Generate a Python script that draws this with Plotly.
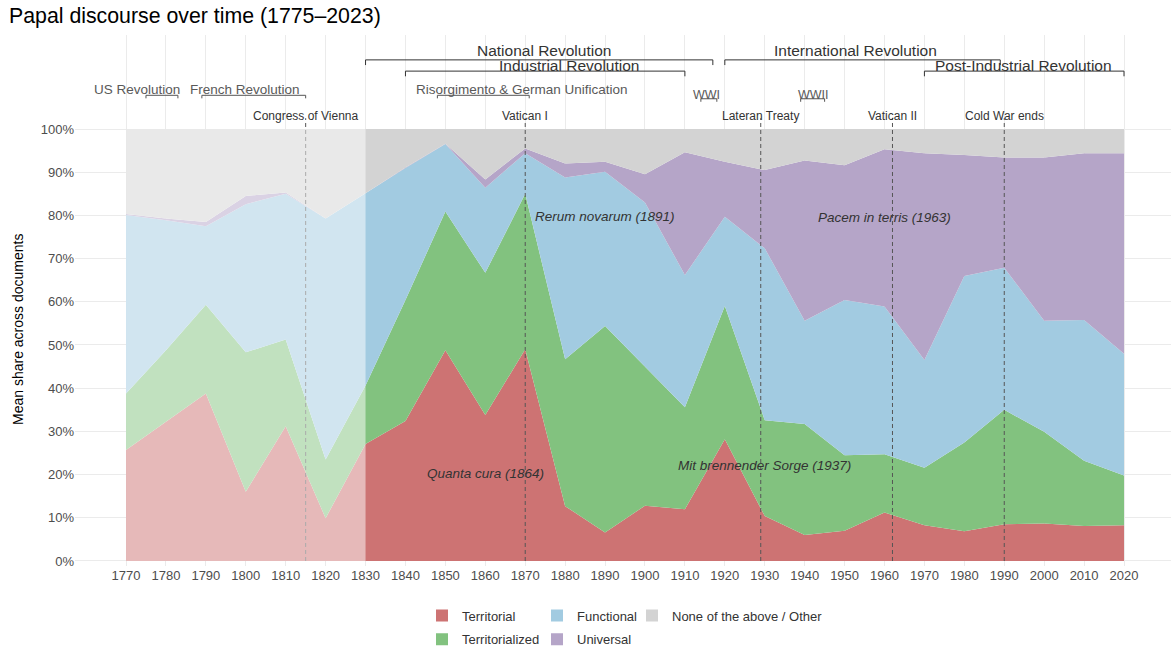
import plotly.graph_objects as go

# ---------------- data ----------------
years = [1770, 1780, 1790, 1800, 1810, 1820, 1830, 1840, 1850, 1860, 1870, 1880, 1890,
         1900, 1910, 1920, 1930, 1940, 1950, 1960, 1970, 1980, 1990, 2000, 2010, 2020]

territorial = [25.7, 32.2, 38.8, 16.0, 31.2, 9.9, 27.1, 32.4, 48.8, 33.8, 49.0, 12.7, 6.6,
               12.8, 12.0, 28.2, 10.4, 6.0, 7.0, 11.2, 8.3, 6.9, 8.5, 8.7, 8.1, 8.3]
territorialized = [13.1, 16.6, 20.5, 32.3, 20.1, 13.6, 13.5, 28.0, 32.1, 32.9, 36.0, 34.0, 47.8,
                   32.2, 23.6, 30.8, 22.2, 25.7, 17.5, 13.5, 13.3, 20.5, 26.5, 21.2, 15.1, 11.5]
functional = [41.3, 30.1, 18.2, 34.3, 33.7, 55.8, 44.5, 30.6, 15.6, 19.7, 9.4, 42.1, 35.7,
              38.0, 30.6, 20.7, 39.8, 23.9, 35.9, 34.2, 24.9, 38.6, 32.9, 25.7, 32.6, 28.2]
universal = [0.2, 0.4, 1.0, 1.9, 0.3, 0.0, 0.0, 0.1, 0.1, 1.9, 1.1, 3.2, 2.3,
             6.5, 28.4, 12.7, 18.1, 37.1, 31.2, 36.4, 47.9, 28.0, 25.5, 37.8, 38.6, 46.4]
other = [19.7, 20.7, 21.5, 15.5, 14.7, 20.7, 14.9, 8.9, 3.4, 11.7, 4.5, 8.0, 7.6,
         10.5, 5.4, 7.6, 9.5, 7.3, 8.4, 4.7, 5.6, 6.0, 6.6, 6.6, 5.6, 5.6]

series_names = ["Territorial", "Territorialized", "Functional", "Universal",
                "None of the above / Other"]
series_values = [territorial, territorialized, functional, universal, other]

y_ticks = [0, 10, 20, 30, 40, 50, 60, 70, 80, 90, 100]
x_ticks = years

faded_period = [1770, 1830]

event_names = ["Congress of Vienna", "Vatican I", "Lateran Treaty", "Vatican II", "Cold War ends"]
event_years = [1815, 1870, 1929, 1962, 1990]

period_names = ["US Revolution", "French Revolution", "Risorgimento & German Unification",
                "WWI", "WWII"]
period_start = [1775, 1789, 1848, 1914, 1939]
period_end = [1783, 1815, 1871, 1918, 1945]
period_label_x = [1772.8, 1799.8, 1869.2, 1915.5, 1942.1]

era_names = ["National Revolution", "Industrial Revolution", "International Revolution",
             "Post-Industrial Revolution"]
era_start = [1830, 1840, 1920, 1970]
era_end = [1917, 1910, 1989, 2020]
era_label_x = [1874.8, 1880.9, 1952.7, 1994.7]

encyclical_names = ["Quanta cura (1864)", "Rerum novarum (1891)",
                    "Mit brennender Sorge (1937)", "Pacem in terris (1963)"]
encyclical_x = [1860, 1890, 1930, 1960]
encyclical_y = [20.3, 79.7, 22.1, 79.5]

# ---------------- styles ----------------
FONT = "Liberation Sans, Arial, sans-serif"
colors = ["#cd7373", "#82c27f", "#a2cbe1", "#b5a5c8", "#d3d3d3"]
W, H = 1171, 649
ML, MR, MT, MB = 75, 0, 35, 83
X_RANGE = [1757.22, 2031.77]
Y_RANGE = [-1.16, 121.76]
EVENT_TOP = 102.5
EVENT_LABEL_Y = 103.0
PERIOD_LINE_Y = [107.8, 107.8, 107.8, 107.0, 107.0]
PERIOD_LABEL_Y = [109.1, 109.1, 109.1, 107.8, 107.8]
ERA_LINE_Y = [116.0, 113.4, 116.0, 113.4]
ERA_LABEL_Y = [118.1, 114.6, 118.1, 114.6]
TICK = 1.2

fig = go.Figure()

for name, vals, col in zip(series_names, series_values, colors):
    fig.add_trace(go.Scatter(
        x=years, y=vals, name=name, stackgroup="one", mode="lines",
        line=dict(width=0, color=col), fillcolor=col, showlegend=False,
        hoverinfo="skip"))

# faded early period
fig.add_shape(type="rect", xref="x", yref="y", x0=faded_period[0], x1=faded_period[1],
              y0=0, y1=100, fillcolor="white", opacity=0.5, line=dict(width=0),
              layer="above")

# event dashed lines
for yr in event_years:
    fig.add_trace(go.Scatter(x=[yr, yr], y=[0, EVENT_TOP], mode="lines",
                             line=dict(color="#555555", width=1, dash="4px,3px"),
                             showlegend=False, hoverinfo="skip"))
for name, yr in zip(event_names, event_years):
    fig.add_annotation(x=yr, y=EVENT_LABEL_Y, xref="x", yref="y", text=name,
                       showarrow=False, font=dict(family=FONT, size=12, color="#333333"),
                       xanchor="center", yanchor="middle")

# brackets
def bracket(x0, x1, y, tick):
    return [x0, x0, None, x0, x1, None, x1, x1], [y - tick, y, None, y, y, None, y, y - tick]

for i, name in enumerate(period_names):
    bx, by = bracket(period_start[i], period_end[i], PERIOD_LINE_Y[i], 0.7)
    fig.add_trace(go.Scatter(x=bx, y=by, mode="lines", line=dict(color="#555555", width=1),
                             showlegend=False, hoverinfo="skip"))
    fig.add_annotation(x=period_label_x[i], y=PERIOD_LABEL_Y[i], xref="x", yref="y", text=name,
                       showarrow=False,
                       font=dict(family=FONT, size=13.5 if i < 3 else 12.5, color="#595959"),
                       xanchor="center", yanchor="middle")

for i, name in enumerate(era_names):
    bx, by = bracket(era_start[i], era_end[i], ERA_LINE_Y[i], TICK)
    fig.add_trace(go.Scatter(x=bx, y=by, mode="lines", line=dict(color="#333333", width=1),
                             showlegend=False, hoverinfo="skip"))
    fig.add_annotation(x=era_label_x[i], y=ERA_LABEL_Y[i], xref="x", yref="y", text=name,
                       showarrow=False, font=dict(family=FONT, size=15.5, color="#333333"),
                       xanchor="center", yanchor="middle")

for name, xx, yy in zip(encyclical_names, encyclical_x, encyclical_y):
    fig.add_annotation(x=xx, y=yy, xref="x", yref="y", text="<i>" + name + "</i>",
                       showarrow=False, font=dict(family=FONT, size=13.5, color="#333333"),
                       xanchor="center", yanchor="middle")

# legend proxies (three columns)
legend_cols = {"Territorial": "legend", "Territorialized": "legend",
               "Functional": "legend2", "Universal": "legend2",
               "None of the above / Other": "legend3"}
for name, col in zip(series_names, colors):
    fig.add_trace(go.Scatter(x=[None], y=[None], mode="markers", name=name,
                             marker=dict(symbol="square", size=12, color=col),
                             legend=legend_cols[name], legendgroup=name, showlegend=True))

def px_x(px):
    return (px - ML) / (W - ML - MR)

def px_y(py):
    return (H - MB - py) / (H - MB - MT)

leg_common = dict(orientation="v", xanchor="left", yanchor="top",
                  font=dict(family=FONT, size=13, color="#333333"),
                  bgcolor="rgba(0,0,0,0)", itemwidth=30, tracegroupgap=4,
                  itemclick=False, itemdoubleclick=False)

fig.update_layout(
    width=W, height=H,
    margin=dict(l=ML, r=MR, t=MT, b=MB, autoexpand=False),
    paper_bgcolor="white", plot_bgcolor="white",
    xaxis=dict(range=X_RANGE, tickvals=x_ticks, ticktext=[str(v) for v in x_ticks],
               showgrid=True, gridcolor="#ebebeb", gridwidth=1, zeroline=False, automargin=False,
               showline=False, ticks="", tickfont=dict(family=FONT, size=13, color="#4d4d4d")),
    yaxis=dict(range=Y_RANGE, tickvals=y_ticks, ticktext=[f"{v}%" for v in y_ticks],
               showgrid=True, gridcolor="#ebebeb", gridwidth=1, zeroline=False, automargin=False,
               showline=False, ticks="", tickfont=dict(family=FONT, size=13, color="#4d4d4d")),
    legend=dict(x=px_x(422), y=px_y(600.5), **leg_common),
    legend2=dict(x=px_x(537), y=px_y(600.5), **leg_common),
    legend3=dict(x=px_x(632), y=px_y(600.5), **leg_common),
    showlegend=True,
)

fig.add_annotation(text="Papal discourse over time (1775\u20132023)", xref="paper", yref="paper",
                   x=px_x(7), y=px_y(16), showarrow=False, xanchor="left", yanchor="middle",
                   font=dict(family=FONT, size=21.3, color="black"))

fig.add_annotation(text="Mean share across documents", xref="paper", yref="paper",
                   x=px_x(18), y=px_y(330), textangle=-90, showarrow=False,
                   font=dict(family=FONT, size=14, color="black"),
                   xanchor="center", yanchor="middle")

fig.write_html("out.html",
               config={"displayModeBar": False, "staticPlot": False},
               post_script="document.body.style.margin='0px';"
                           "document.documentElement.style.overflow='hidden';")
